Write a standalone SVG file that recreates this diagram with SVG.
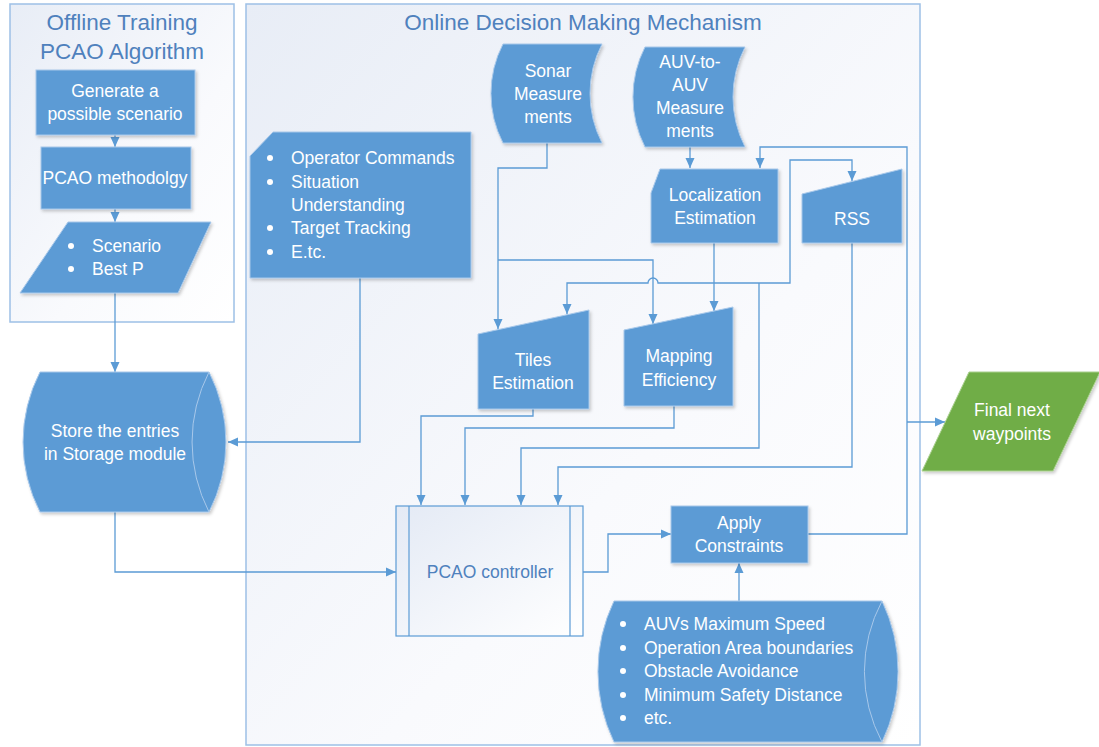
<svg xmlns="http://www.w3.org/2000/svg" width="1099" height="747" viewBox="0 0 1099 747">
<defs>
<linearGradient id="bg" x1="0" y1="0" x2="1" y2="1">
<stop offset="0" stop-color="#e8edf6"/>
<stop offset="0.6" stop-color="#f9fafd"/>
<stop offset="1" stop-color="#ffffff"/>
</linearGradient>
<linearGradient id="pp" x1="0" y1="0" x2="1" y2="1">
<stop offset="0" stop-color="#e4eaf5"/>
<stop offset="1" stop-color="#ffffff"/>
</linearGradient>
<filter id="sh" x="-10%" y="-10%" width="125%" height="125%">
<feDropShadow dx="1.5" dy="2" stdDeviation="1.5" flood-color="#000" flood-opacity="0.2"/>
</filter>
<marker id="ar" markerUnits="userSpaceOnUse" markerWidth="11" markerHeight="10" refX="10" refY="5" orient="auto-start-reverse">
<path d="M0,0.5 L10,5 L0,9.5 Z" fill="#5b9bd5"/>
</marker>
<style>
.cont{fill:url(#bg);stroke:#9dc0e6;stroke-width:1.5}
.box{fill:#5b9bd5;stroke:#a8c8ea;stroke-width:1;filter:url(#sh)}
.grn{fill:#70ad47;stroke:#a9d08e;stroke-width:1;filter:url(#sh)}
.ln{fill:none;stroke:#5b9bd5;stroke-width:1.3}
.ttl{font-family:"Liberation Sans",Arial,sans-serif;font-size:22.5px;fill:#4f81bd;text-anchor:middle}
.t{font-family:"Liberation Sans",Arial,sans-serif;font-size:17.5px;fill:#ffffff;text-anchor:middle}
.tl{font-family:"Liberation Sans",Arial,sans-serif;font-size:17.5px;fill:#ffffff}
.tb{font-family:"Liberation Sans",Arial,sans-serif;font-size:17.5px;fill:#4f81bd;text-anchor:middle}
</style>
</defs>

<g id="offline-container">
<rect class="cont" x="10" y="4" width="224" height="318"/>
<text class="ttl" x="122" y="30">Offline Training</text>
<text class="ttl" x="122" y="59">PCAO Algorithm</text>
</g>
<g id="online-container">
<rect class="cont" x="246" y="4" width="674" height="741"/>
<text class="ttl" x="583" y="30">Online Decision Making Mechanism</text>
</g>

<g id="connectors">
<path class="ln" marker-end="url(#ar)" d="M115,135 V147"/>
<path class="ln" marker-end="url(#ar)" d="M115,209 V222"/>
<path class="ln" marker-end="url(#ar)" d="M115,293 V372"/>
<path class="ln" marker-end="url(#ar)" d="M360,278 V442 H228"/>
<path class="ln" marker-end="url(#ar)" d="M115,512 V572 H396"/>
<path class="ln" marker-end="url(#ar)" d="M547,143 V168 H498 V329"/>
<path class="ln" marker-end="url(#ar)" d="M498,260 H653 V324"/>
<path class="ln" marker-end="url(#ar)" d="M690,147 V168"/>
<path class="ln" marker-end="url(#ar)" d="M714,243 V311"/>
<path class="ln" marker-start="url(#ar)" marker-end="url(#ar)" d="M567,314 V283 H648 A5,5 0 0 1 658,283 H790 V160 H852 V181"/>
<path class="ln" marker-end="url(#ar)" d="M759,283 V448 H521 V505"/>
<path class="ln" marker-end="url(#ar)" d="M852,243 V467 H558 V505"/>
<path class="ln" marker-end="url(#ar)" d="M533,409 V416 H421 V505"/>
<path class="ln" marker-end="url(#ar)" d="M674,406 V428 H465 V505"/>
<path class="ln" marker-end="url(#ar)" d="M583,572 H608 V534 H671"/>
<path class="ln" marker-end="url(#ar)" d="M739,601 V563"/>
<path class="ln" marker-end="url(#ar)" d="M808,534 H907 V147 H760 V168"/>
<path class="ln" marker-end="url(#ar)" d="M907,422 H945"/>
</g>

<g id="generate">
<rect class="box" x="36" y="70" width="159" height="65"/>
<text class="t" x="115" y="97">Generate a</text>
<text class="t" x="115" y="120">possible scenario</text>
</g>
<g id="methodology">
<rect class="box" x="41" y="147" width="150" height="62"/>
<text class="t" x="115" y="184">PCAO methodolgy</text>
</g>
<g id="scenario">
<path class="box" d="M68,222 L211,222 L178,293 L20,293 Z"/>
<circle cx="71" cy="246" r="3" fill="#fff"/>
<circle cx="71" cy="269" r="3" fill="#fff"/>
<text class="tl" x="92" y="252">Scenario</text>
<text class="tl" x="92" y="275">Best P</text>
</g>
<g id="storage">
<path class="box" d="M40,372 L209,372 A153,153 0 0 1 209,512 L40,512 A153,153 0 0 1 40,372 Z"/>
<path d="M209,372 A153,153 0 0 0 209,512" fill="none" stroke="#a8c8ea" stroke-width="1"/>
<text class="t" x="115" y="437">Store the entries</text>
<text class="t" x="115" y="460">in Storage module</text>
</g>
<g id="operator">
<path class="box" d="M273,132 L471,132 L471,278 L250,278 L250,156 Z"/>
<circle cx="270" cy="158" r="3" fill="#fff"/>
<circle cx="270" cy="182" r="3" fill="#fff"/>
<circle cx="270" cy="228" r="3" fill="#fff"/>
<circle cx="270" cy="252" r="3" fill="#fff"/>
<text class="tl" x="291" y="164">Operator Commands</text>
<text class="tl" x="291" y="188">Situation</text>
<text class="tl" x="291" y="211">Understanding</text>
<text class="tl" x="291" y="234">Target Tracking</text>
<text class="tl" x="291" y="258">E.tc.</text>
</g>
<g id="sonar">
<path class="box" d="M503,44 L602,44 A108,108 0 0 0 602,143 L503,143 A108,108 0 0 1 503,44 Z"/>
<text class="t" x="548" y="77">Sonar</text>
<text class="t" x="548" y="100">Measure</text>
<text class="t" x="548" y="123">ments</text>
</g>
<g id="auv">
<path class="box" d="M645,47 L745,47 A110,110 0 0 0 745,147 L645,147 A110,110 0 0 1 645,47 Z"/>
<text class="t" x="690" y="68">AUV-to-</text>
<text class="t" x="690" y="91">AUV</text>
<text class="t" x="690" y="114">Measure</text>
<text class="t" x="690" y="137">ments</text>
</g>
<g id="localization">
<path class="box" d="M660,169 L778,169 L778,243 L651,243 L651,193 Z"/>
<text class="t" x="715" y="201">Localization</text>
<text class="t" x="715" y="224">Estimation</text>
</g>
<g id="rss">
<path class="box" d="M802,194 L902,169 L902,243 L802,243 Z"/>
<text class="t" x="852" y="225">RSS</text>
</g>
<g id="tiles">
<path class="box" d="M478,334 L589,310 L589,409 L478,409 Z"/>
<text class="t" x="533" y="366">Tiles</text>
<text class="t" x="533" y="389">Estimation</text>
</g>
<g id="mapping">
<path class="box" d="M624,330 L733,307 L733,406 L624,406 Z"/>
<text class="t" x="679" y="362">Mapping</text>
<text class="t" x="679" y="386">Efficiency</text>
</g>
<g id="pcao-controller">
<rect x="396" y="506" width="187" height="130" fill="url(#pp)" stroke="#5b9bd5" stroke-width="1.2"/>
<line x1="409" y1="506" x2="409" y2="636" stroke="#5b9bd5" stroke-width="1.2"/>
<line x1="570" y1="506" x2="570" y2="636" stroke="#5b9bd5" stroke-width="1.2"/>
<text class="tb" x="490" y="578">PCAO controller</text>
</g>
<g id="apply">
<rect class="box" x="671" y="506" width="137" height="57"/>
<text class="t" x="739" y="529">Apply</text>
<text class="t" x="739" y="552">Constraints</text>
</g>
<g id="constraints">
<path class="box" d="M614,601 L882,601 A163,163 0 0 1 882,742 L614,742 A163,163 0 0 1 614,601 Z"/>
<path d="M882,601 A150,150 0 0 0 882,742" fill="none" stroke="#a8c8ea" stroke-width="1"/>
<circle cx="623" cy="624" r="3" fill="#fff"/>
<circle cx="623" cy="648" r="3" fill="#fff"/>
<circle cx="623" cy="671" r="3" fill="#fff"/>
<circle cx="623" cy="695" r="3" fill="#fff"/>
<circle cx="623" cy="718" r="3" fill="#fff"/>
<text class="tl" x="644" y="630">AUVs Maximum Speed</text>
<text class="tl" x="644" y="654">Operation Area boundaries</text>
<text class="tl" x="644" y="677">Obstacle Avoidance</text>
<text class="tl" x="644" y="701">Minimum Safety Distance</text>
<text class="tl" x="644" y="724">etc.</text>
</g>
<g id="final">
<path class="grn" d="M969,372 L1100,372 L1053,471 L922,471 Z"/>
<text class="t" x="1012" y="416">Final next</text>
<text class="t" x="1012" y="440">waypoints</text>
</g>
</svg>
